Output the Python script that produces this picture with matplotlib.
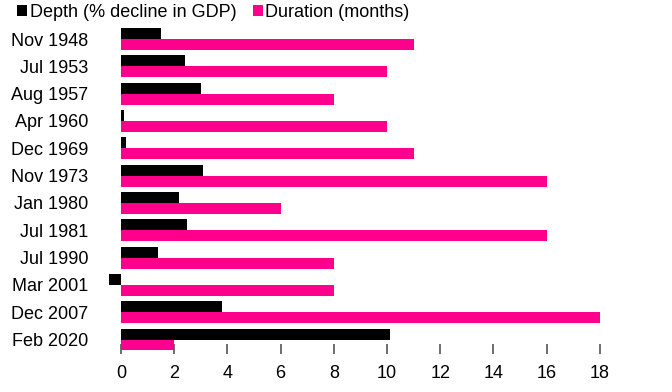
import matplotlib
matplotlib.use('Agg')
import matplotlib.pyplot as plt
import numpy as np
from matplotlib.patches import Patch

plt.rcParams['font.family'] = ['Liberation Sans', 'DejaVu Sans']

# recession start dates, top to bottom
labels = ['Nov 1948', 'Jul 1953', 'Aug 1957', 'Apr 1960', 'Dec 1969', 'Nov 1973',
          'Jan 1980', 'Jul 1981', 'Jul 1990', 'Mar 2001', 'Dec 2007', 'Feb 2020']
depth = [1.5, 2.4, 3.0, 0.1, 0.2, 3.1, 2.2, 2.5, 1.4, -0.45, 3.8, 10.1]
duration = [11, 10, 8, 10, 11, 16, 6, 16, 8, 8, 18, 2]
xticks = [0, 2, 4, 6, 8, 10, 12, 14, 16, 18]

BLACK = '#000000'
PINK = '#ff008c'

fig = plt.figure(figsize=(6.72, 3.92), dpi=100)
ax = fig.add_axes([0.15625, 0.0969, 0.8155, 0.8454])

y = np.arange(len(labels))
h = 0.4
ax.barh(y - h / 2, depth, height=h, color=BLACK, zorder=3)
ax.barh(y + h / 2, duration, height=h, color=PINK, zorder=3)

ax.set_ylim(len(labels) - 0.47, -0.6)
ax.set_xlim(-0.6, 20)
ax.set_yticks(y)
ax.set_yticklabels(labels)
ax.set_xticks(xticks)
ax.set_xticklabels([str(t) for t in xticks])

for s in ax.spines.values():
    s.set_visible(False)
ax.tick_params(axis='y', length=0, pad=12, labelsize=13)
ax.tick_params(axis='x', direction='in', length=7, width=1.2, color='#555555',
               pad=8, labelsize=13)

handles = [Patch(facecolor=BLACK, label='Depth (% decline in GDP)'),
           Patch(facecolor=PINK, label='Duration (months)')]
fig.legend(handles=handles, loc='upper left', bbox_to_anchor=(0.012, 1.012),
           ncol=2, frameon=False, fontsize=13, borderpad=0,
           handlelength=0.55, handleheight=0.55, handletextpad=0.15,
           columnspacing=0.9)

fig.savefig('out.png', dpi=100)
